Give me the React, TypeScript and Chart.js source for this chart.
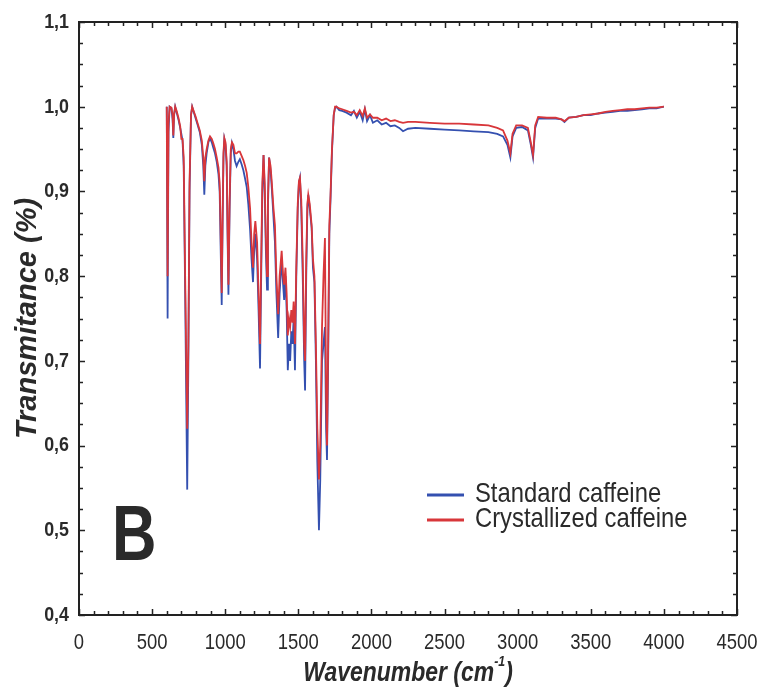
import React, { useEffect, useRef } from "react";
import { Chart, registerables } from "chart.js";

Chart.register(...registerables);

// Fingerprint region (cm-1)
const fingerprintWavenumbers = [
  600, 606, 612, 620, 632, 640, 645, 650, 658, 668,
  680, 692, 700, 708, 716, 726, 740, 748, 756, 766,
  774, 784, 798, 812, 826, 840, 850, 857, 864, 873,
  885, 896, 908, 918, 930, 942, 954, 962, 968, 976,
  982, 988, 994, 1002, 1010, 1015, 1022, 1030, 1038, 1046,
  1056, 1067, 1078, 1090, 1100, 1112, 1124, 1136, 1147, 1158,
  1170, 1180, 1190, 1198, 1206, 1218, 1228, 1238, 1246, 1254,
  1262, 1270, 1278, 1286, 1292, 1300, 1310, 1318, 1330, 1340,
  1350, 1362, 1372, 1386, 1396, 1403, 1412, 1420, 1428, 1436,
  1444, 1452, 1460, 1468, 1477, 1486, 1496, 1504, 1511, 1520,
  1530, 1540, 1546, 1554, 1562, 1568, 1578, 1591, 1600, 1610,
  1620, 1630, 1641, 1650, 1662, 1672, 1682, 1690, 1696, 1704,
  1712, 1720, 1730, 1742, 1751, 1760,
];

const fingerprintStandard = [
  1.0, 0.75, 0.97, 1.0, 0.998, 0.985, 0.963, 0.99, 1.0, 0.993,
  0.985, 0.975, 0.968, 0.96, 0.93, 0.78, 0.548, 0.7, 0.9, 0.99,
  1.0, 0.994, 0.986, 0.978, 0.97, 0.955, 0.93, 0.896, 0.93, 0.945,
  0.958, 0.963, 0.958, 0.952, 0.945, 0.935, 0.92, 0.9, 0.84, 0.766,
  0.86, 0.94, 0.962, 0.955, 0.93, 0.86, 0.778, 0.88, 0.945, 0.957,
  0.95, 0.936, 0.93, 0.935, 0.938, 0.932, 0.925, 0.915, 0.905, 0.885,
  0.855, 0.82, 0.793, 0.83, 0.85, 0.82, 0.76, 0.691, 0.8, 0.9,
  0.943, 0.9, 0.83, 0.784, 0.88, 0.94, 0.925, 0.905, 0.87, 0.84,
  0.78, 0.727, 0.78, 0.82, 0.79, 0.772, 0.8, 0.76, 0.689, 0.72,
  0.7, 0.735, 0.72, 0.75, 0.689, 0.8, 0.88, 0.91, 0.916, 0.88,
  0.8, 0.7, 0.665, 0.8, 0.88, 0.896, 0.88, 0.857, 0.81, 0.793,
  0.7, 0.58, 0.5, 0.56, 0.7, 0.72, 0.74, 0.62, 0.583, 0.7,
  0.85, 0.89, 0.947, 0.99, 0.998, 1.0,
];

const fingerprintCrystallized = [
  1.0, 0.8, 0.98, 1.0, 0.999, 0.99, 0.966, 0.99, 1.0, 0.995,
  0.987, 0.977, 0.962, 0.962, 0.94, 0.8, 0.62, 0.72, 0.91, 0.99,
  1.0, 0.995, 0.988, 0.98, 0.972, 0.96, 0.94, 0.912, 0.94, 0.95,
  0.96, 0.965, 0.962, 0.957, 0.95, 0.94, 0.928, 0.91, 0.86, 0.78,
  0.87, 0.945, 0.963, 0.958, 0.935, 0.87, 0.79, 0.89, 0.95, 0.958,
  0.955, 0.945, 0.945, 0.947, 0.947, 0.942, 0.937, 0.93, 0.922, 0.905,
  0.88, 0.84, 0.81, 0.85, 0.865, 0.84, 0.78, 0.72, 0.82, 0.91,
  0.943, 0.91, 0.845, 0.8, 0.89, 0.94, 0.93, 0.912, 0.88, 0.86,
  0.8, 0.755, 0.8, 0.83, 0.8, 0.79, 0.81, 0.78, 0.73, 0.75,
  0.74, 0.76, 0.745, 0.77, 0.72, 0.81, 0.885, 0.912, 0.916, 0.89,
  0.82, 0.72, 0.7, 0.82, 0.885, 0.896, 0.885, 0.86, 0.82, 0.8,
  0.72, 0.62, 0.56, 0.6, 0.74, 0.8, 0.845, 0.66, 0.6, 0.72,
  0.86, 0.895, 0.95, 0.99, 1.0, 1.0,
];

// High-wavenumber region (cm-1)
const plateauWavenumbers = [
  1780, 1800, 1830, 1860, 1880, 1900, 1920, 1940, 1955, 1970,
  1990, 2010, 2040, 2070, 2100, 2130, 2160, 2190, 2216, 2250,
  2300, 2400, 2500, 2600, 2700, 2800, 2860, 2900, 2930, 2950,
  2965, 2990, 3030, 3070, 3090, 3105, 3120, 3140, 3200, 3260,
  3300, 3320, 3350, 3400, 3450, 3500, 3550, 3600, 3650, 3700,
  3750, 3800, 3850, 3900, 3950, 4000,
];

const plateauStandard = [
  0.996, 0.995, 0.993, 0.99, 0.995, 0.987, 0.994, 0.984, 0.997, 0.983,
  0.99, 0.981, 0.984, 0.979, 0.981, 0.977, 0.978, 0.975, 0.971, 0.974,
  0.975, 0.974, 0.973, 0.972, 0.971, 0.97, 0.968, 0.965, 0.955, 0.94,
  0.965, 0.975, 0.976, 0.972, 0.955, 0.94, 0.975, 0.986, 0.986, 0.986,
  0.985, 0.982, 0.987, 0.988, 0.99, 0.99, 0.992, 0.993, 0.994, 0.995,
  0.995, 0.996, 0.997, 0.998, 0.998, 1.0,
];

const plateauCrystallized = [
  0.998, 0.997, 0.995, 0.993, 0.994, 0.99, 0.996, 0.989, 0.998, 0.987,
  0.991, 0.987, 0.987, 0.984, 0.986, 0.983, 0.984, 0.982, 0.981, 0.982,
  0.982, 0.981, 0.98, 0.98, 0.979, 0.978, 0.975, 0.972, 0.96, 0.945,
  0.968, 0.978, 0.978, 0.975, 0.958, 0.943, 0.978, 0.988, 0.987, 0.987,
  0.985, 0.983, 0.987, 0.988, 0.99, 0.991, 0.992, 0.994, 0.995, 0.996,
  0.997, 0.997, 0.998, 0.999, 0.999, 1.0,
];

const seriesNames = ["Standard caffeine", "Crystallized caffeine"];
const seriesColors = ["#3450b0", "#d8363a"];
const xTickValues = [0, 500, 1000, 1500, 2000, 2500, 3000, 3500, 4000, 4500];
const yTickValues = [0.4, 0.5, 0.6, 0.7, 0.8, 0.9, 1.0, 1.1];

const FONT = "'Liberation Sans', Arial, sans-serif";
const TEXT = "#2a2a2a";

function toPoints(xs: number[], ys: number[]) {
  return xs.map((x, i) => ({ x, y: ys[i] }));
}

// draw horizontally condensed text (the figure uses a narrow typeface)
function narrowText(ctx: any, text: string, x: number, y: number, font: string, align: string, baseline: string, sx: number) {
  ctx.save();
  ctx.translate(x, y);
  ctx.scale(sx, 1);
  ctx.font = font;
  ctx.textAlign = align;
  ctx.textBaseline = baseline;
  ctx.fillText(text, 0, 0);
  ctx.restore();
}

const decorPlugin = {
  id: "decor",
  afterDraw(chart: any) {
    const { ctx, chartArea, scales } = chart;
    const { left, top, right, bottom } = chartArea;
    const xs = scales.x;
    const ys = scales.y;
    ctx.save();
    // frame
    ctx.strokeStyle = "#222";
    ctx.lineWidth = 2;
    ctx.strokeRect(left, top, right - left, bottom - top);
    // inner ticks
    ctx.lineWidth = 1.5;
    ctx.beginPath();
    for (let v = 0; v <= 4500; v += 100) {
      const px = Math.round(xs.getPixelForValue(v)) + 0.5;
      const len = v % 500 === 0 ? 6 : 4;
      ctx.moveTo(px, bottom);
      ctx.lineTo(px, bottom - len);
      ctx.moveTo(px, top);
      ctx.lineTo(px, top + len);
    }
    for (let i = 0; i <= 28; i++) {
      const py = Math.round(ys.getPixelForValue(0.4 + i * 0.025)) + 0.5;
      const len = i % 4 === 0 ? 6 : 4;
      ctx.moveTo(left, py);
      ctx.lineTo(left + len, py);
      ctx.moveTo(right, py);
      ctx.lineTo(right - len, py);
    }
    ctx.stroke();

    ctx.fillStyle = TEXT;
    // tick labels
    for (const v of xTickValues) {
      narrowText(ctx, String(v), xs.getPixelForValue(v), 643, `22px ${FONT}`, "center", "middle", 0.84);
    }
    for (const v of yTickValues) {
      narrowText(ctx, v.toFixed(1).replace(".", ","), 69, ys.getPixelForValue(v), `bold 21px ${FONT}`, "right", "middle", 0.85);
    }

    // x title with superscript
    const cx = (left + right) / 2;
    const sx = 0.82;
    const mainFont = `italic bold 28px ${FONT}`;
    const supFont = `italic bold 15px ${FONT}`;
    ctx.font = mainFont;
    const part1 = "Wavenumber (cm";
    const part3 = ")";
    const w1 = ctx.measureText(part1).width * sx;
    const w3 = ctx.measureText(part3).width * sx;
    ctx.font = supFont;
    const sup = "-1";
    const w2 = ctx.measureText(sup).width * sx;
    let px = cx - (w1 + w2 + w3) / 2;
    narrowText(ctx, part1, px, 681, mainFont, "left", "alphabetic", sx);
    px += w1;
    narrowText(ctx, sup, px, 666, supFont, "left", "alphabetic", sx);
    px += w2;
    narrowText(ctx, part3, px, 681, mainFont, "left", "alphabetic", sx);

    // y title
    ctx.save();
    ctx.translate(28, (top + bottom) / 2);
    ctx.rotate(-Math.PI / 2);
    ctx.font = `italic bold 29px ${FONT}`;
    ctx.textAlign = "center";
    ctx.textBaseline = "middle";
    ctx.fillText("Transmitance (%)", 0, 0);
    ctx.restore();

    // panel letter
    narrowText(ctx, "B", 112, 560, `bold 77px ${FONT}`, "left", "alphabetic", 0.8);

    // legend
    const legendY = [495, 520];
    for (let i = 0; i < 2; i++) {
      ctx.strokeStyle = seriesColors[i];
      ctx.lineWidth = 3;
      ctx.beginPath();
      ctx.moveTo(427, legendY[i]);
      ctx.lineTo(464, legendY[i]);
      ctx.stroke();
      ctx.fillStyle = TEXT;
      narrowText(ctx, seriesNames[i], 475, legendY[i] - 1, `28px ${FONT}`, "left", "middle", 0.85);
    }
    ctx.restore();
  },
};

export default function App() {
  const ref = useRef<HTMLCanvasElement | null>(null);
  useEffect(() => {
    if (!ref.current) return;
    const wn = fingerprintWavenumbers.concat(plateauWavenumbers);
    const std = fingerprintStandard.concat(plateauStandard);
    const cry = fingerprintCrystallized.concat(plateauCrystallized);
    const chart = new Chart(ref.current, {
      type: "line",
      data: {
        datasets: [
          {
            label: seriesNames[0],
            data: toPoints(wn, std),
            borderColor: seriesColors[0],
            borderWidth: 1.8,
            pointRadius: 0,
            tension: 0,
            order: 1,
          },
          {
            label: seriesNames[1],
            data: toPoints(wn, cry),
            borderColor: seriesColors[1],
            borderWidth: 1.8,
            pointRadius: 0,
            tension: 0,
            order: 0,
          },
        ],
      },
      options: {
        responsive: false,
        devicePixelRatio: 1,
        animation: false,
        layout: { padding: { top: 22, right: 25, bottom: 0, left: 0 } },
        plugins: { legend: { display: false }, tooltip: { enabled: false } },
        scales: {
          x: {
            type: "linear",
            min: 0,
            max: 4500,
            ticks: { display: false, stepSize: 500 },
            grid: { display: false, drawTicks: false },
            border: { display: false },
            afterFit: (s: any) => {
              s.height = 78;
            },
          },
          y: {
            type: "linear",
            min: 0.4,
            max: 1.1,
            ticks: { display: false, stepSize: 0.1 },
            grid: { display: false, drawTicks: false },
            border: { display: false },
            afterFit: (s: any) => {
              s.width = 79;
            },
          },
        },
      },
      plugins: [decorPlugin],
    });
    return () => chart.destroy();
  }, []);
  return (
    <div style={{ position: "fixed", left: 0, top: 0, width: 762, height: 693, background: "#fff" }}>
      <canvas ref={ref} width={762} height={693} style={{ display: "block" }} />
    </div>
  );
}
